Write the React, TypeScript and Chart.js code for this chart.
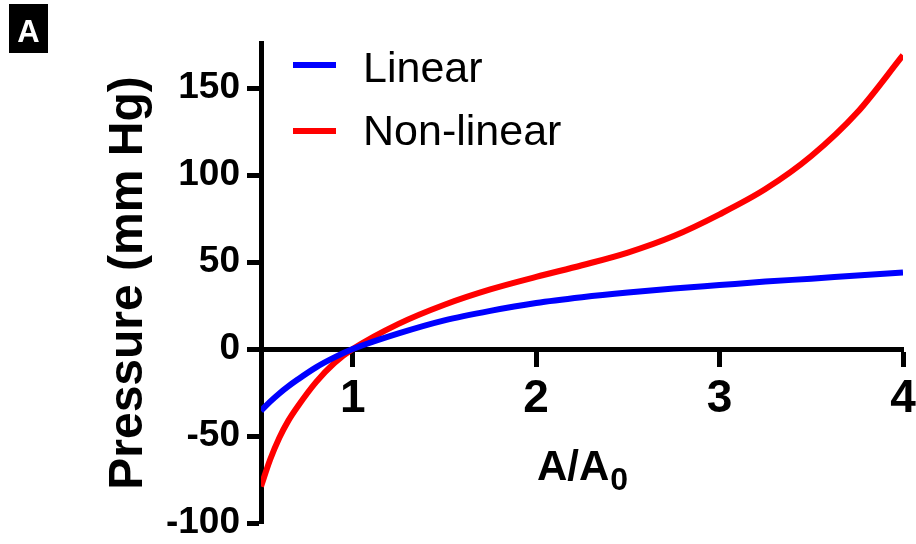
import React, { useEffect, useRef } from "react";
import { Chart, registerables } from "chart.js";

Chart.register(...registerables);

const areaRatio: number[] = [0.5, 0.55, 0.6, 0.65, 0.7, 0.8, 0.9, 1, 1.25, 1.5, 1.75, 2, 2.25, 2.5, 2.75, 3, 3.25, 3.5, 3.75, 4];
const linearPressure: number[] = [-35.5, -30.2, -25.5, -21.3, -17.5, -10.5, -4.8, 0, 9, 16.5, 22, 26.5, 29.8, 32.5, 34.8, 36.8, 38.8, 40.5, 42.3, 44];
const nonLinearPressure: number[] = [-79, -63.5, -51, -41, -33, -19, -8, 0, 14.5, 25.5, 34.3, 41.5, 48.2, 55.5, 65, 77.5, 92, 111, 136, 169];

const xTicks: number[] = [1, 2, 3, 4];
const yTicks: number[] = [-100, -50, 0, 50, 100, 150];
const seriesNames: string[] = ["Linear", "Non-linear"];
const seriesColors: string[] = ["#0000FF", "#FF0000"];
const panelLabel = "A";
const yTitle = "Pressure (mm Hg)";
const xTitleMain = "A/A";
const xTitleSub = "0";

const FONT = '"Liberation Sans", Arial, sans-serif';

const overlayPlugin = {
  id: "overlay",
  afterDraw(chart: any) {
    const ctx = chart.ctx as CanvasRenderingContext2D;
    const area = chart.chartArea;
    ctx.save();
    // panel badge
    ctx.fillStyle = "#000";
    ctx.fillRect(9, 4, 39, 49);
    ctx.fillStyle = "#fff";
    ctx.font = `bold 31px ${FONT}`;
    ctx.textAlign = "center";
    ctx.textBaseline = "alphabetic";
    ctx.fillText(panelLabel, 28.5, 42);

    // legend
    const legendY = [65, 131];
    const legendBase = [82, 145];
    ctx.font = `43px ${FONT}`;
    ctx.textAlign = "left";
    seriesNames.forEach((name, i) => {
      ctx.strokeStyle = seriesColors[i];
      ctx.lineWidth = 6;
      ctx.beginPath();
      ctx.moveTo(293, legendY[i]);
      ctx.lineTo(336, legendY[i]);
      ctx.stroke();
      ctx.fillStyle = "#000";
      ctx.fillText(name, 363, legendBase[i]);
    });

    // x title with subscript
    ctx.fillStyle = "#000";
    const mainFont = `bold 42px ${FONT}`;
    const subFont = `bold 32px ${FONT}`;
    ctx.font = mainFont;
    const w1 = ctx.measureText(xTitleMain).width;
    ctx.font = subFont;
    const w2 = ctx.measureText(xTitleSub).width;
    const cx = (area.left + area.right) / 2;
    const start = cx - (w1 + w2) / 2;
    ctx.font = mainFont;
    ctx.fillText(xTitleMain, start, 480);
    ctx.font = subFont;
    ctx.fillText(xTitleSub, start + w1 + 1, 490);

    // y title
    ctx.translate(142, (area.top + area.bottom) / 2);
    ctx.rotate(-Math.PI / 2);
    ctx.font = `bold 48px ${FONT}`;
    ctx.textAlign = "center";
    ctx.fillText(yTitle, 0, 0);
    ctx.restore();
  },
};

export default function App() {
  const canvasRef = useRef<HTMLCanvasElement | null>(null);

  useEffect(() => {
    if (!canvasRef.current) return;
    const chart = new Chart(canvasRef.current, {
      type: "line",
      data: {
        datasets: [
          {
            label: seriesNames[0],
            data: areaRatio.map((x, i) => ({ x, y: linearPressure[i] })),
            borderColor: seriesColors[0],
            borderWidth: 6,
            pointRadius: 0,
            cubicInterpolationMode: "monotone",
            fill: false,
          },
          {
            label: seriesNames[1],
            data: areaRatio.map((x, i) => ({ x, y: nonLinearPressure[i] })),
            borderColor: seriesColors[1],
            borderWidth: 6,
            pointRadius: 0,
            cubicInterpolationMode: "monotone",
            fill: false,
          },
        ],
      },
      options: {
        animation: false,
        responsive: false,
        devicePixelRatio: 1,
        layout: { padding: { left: 0, top: 43, right: 13, bottom: 21 } },
        plugins: { legend: { display: false }, tooltip: { enabled: false } },
        scales: {
          x: {
            type: "linear",
            min: 0.5,
            max: 4,
            position: { y: 0 } as any,
            afterBuildTicks: (scale: any) => {
              scale.ticks = xTicks.map((v) => ({ value: v }));
            },
            afterFit: (scale: any) => {
              scale.paddingLeft = 0;
              scale.paddingRight = 0;
            },
            grid: { drawOnChartArea: false, drawTicks: true, tickLength: 15, tickWidth: 5, tickColor: "#000", color: "#000" },
            border: { display: true, color: "#000", width: 5 },
            ticks: { color: "#000", font: { family: FONT, size: 46, weight: "bold" }, padding: 8, maxRotation: 0, autoSkip: false },
          },
          y: {
            type: "linear",
            min: -100,
            max: 176,
            position: "left",
            afterBuildTicks: (scale: any) => {
              scale.ticks = yTicks.map((v) => ({ value: v }));
            },
            afterFit: (scale: any) => {
              scale.width = 261;
              scale.paddingTop = 0;
              scale.paddingBottom = 0;
            },
            grid: { drawOnChartArea: false, drawTicks: true, tickLength: 14, tickWidth: 5, tickColor: "#000", color: "#000" },
            border: { display: true, color: "#000", width: 5 },
            ticks: { color: "#000", font: { family: FONT, size: 37, weight: "bold" }, padding: 7, autoSkip: false },
          },
        },
      },
      plugins: [overlayPlugin],
    });
    return () => chart.destroy();
  }, []);

  return (
    <div style={{ position: "absolute", left: 0, top: 0, width: 916, height: 544, background: "#fff" }}>
      <canvas ref={canvasRef} width={916} height={544} style={{ display: "block", width: 916, height: 544 }} />
    </div>
  );
}
